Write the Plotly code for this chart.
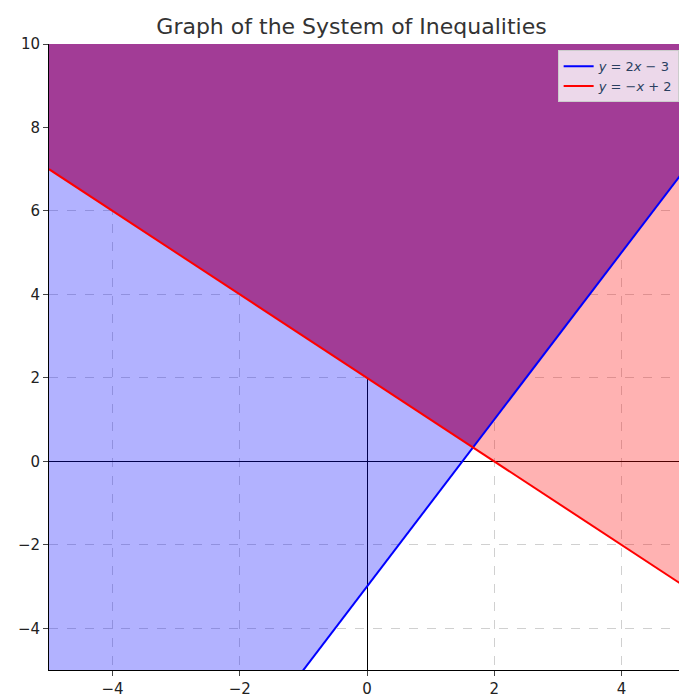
import plotly.graph_objects as go

x_ends = [-5, 5]
blue_y = [-13, 7]      # y = 2x - 3
red_y = [7, -3]        # y = -x + 2
top = [10, 10]
meet_x, meet_y = 5 / 3, 1 / 3

fig = go.Figure()
# region above blue line
fig.add_trace(go.Scatter(x=x_ends + x_ends[::-1], y=blue_y + top, fill="toself",
                         fillcolor="rgba(0,0,255,0.3)", line=dict(width=0),
                         mode="none", showlegend=False, hoverinfo="skip"))
# region above red line
fig.add_trace(go.Scatter(x=x_ends + x_ends[::-1], y=red_y + top, fill="toself",
                         fillcolor="rgba(255,0,0,0.3)", line=dict(width=0),
                         mode="none", showlegend=False, hoverinfo="skip"))
# solution region
fig.add_trace(go.Scatter(x=[x_ends[0], meet_x, x_ends[1], x_ends[1], x_ends[0]],
                         y=[red_y[0], meet_y, blue_y[1], top[1], top[0]], fill="toself",
                         fillcolor="#a23c96", line=dict(width=0),
                         mode="none", showlegend=False, hoverinfo="skip"))
fig.add_trace(go.Scatter(x=x_ends, y=blue_y, mode="lines", line=dict(color="blue", width=2),
                         name="<i>y</i> = 2<i>x</i> − 3"))
fig.add_trace(go.Scatter(x=x_ends, y=red_y, mode="lines", line=dict(color="red", width=2),
                         name="<i>y</i> = −<i>x</i> + 2"))

axis = dict(showgrid=True, gridcolor="#d0d0d0", griddash="dash", gridwidth=1,
            zeroline=True, zerolinecolor="black", zerolinewidth=1,
            showline=True, linecolor="black", linewidth=1, ticks="outside",
            tickfont=dict(size=15, color="#222"))
fig.update_xaxes(range=[-5, 5], tickvals=[-4, -2, 0, 2, 4],
                 ticktext=["−4", "−2", "0", "2", "4"], **axis)
fig.update_yaxes(range=[-5, 10], tickvals=[-4, -2, 0, 2, 4, 6, 8, 10],
                 ticktext=["−4", "−2", "0", "2", "4", "6", "8", "10"], **axis)
fig.update_layout(
    width=687, height=700,
    title=dict(text="Graph of the System of Inequalities", x=0.5, y=0.985,
               font=dict(size=22, color="#333")),
    font=dict(family="DejaVu Sans"),
    plot_bgcolor="white", paper_bgcolor="white",
    margin=dict(l=40, r=10, t=36, b=33),
    legend=dict(x=0.99, y=0.99, xanchor="right", yanchor="top",
                bgcolor="rgba(255,255,255,0.8)", bordercolor="#ccc", borderwidth=1,
                font=dict(size=13)),
)
fig.write_html("out.html")
